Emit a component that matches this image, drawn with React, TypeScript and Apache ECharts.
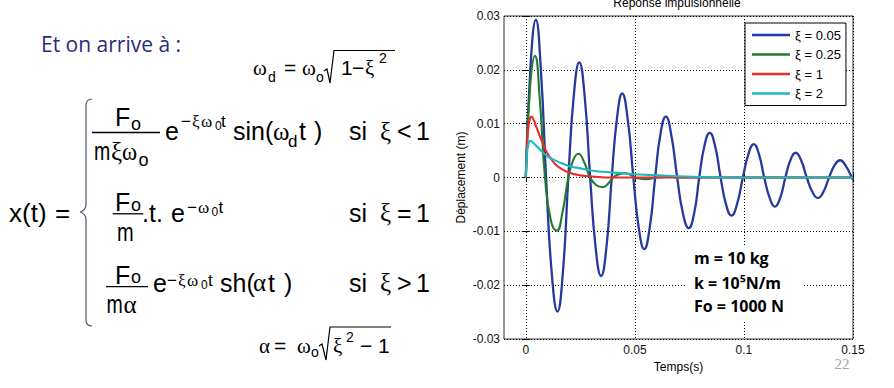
import React, { useEffect, useRef } from "react";
import * as echarts from "echarts";

// ---------- data ----------
const legendNames = ["ξ = 0.05", "ξ = 0.25", "ξ = 1", "ξ = 2"];
const seriesColors = ["#26399E", "#217A2F", "#EE2A2A", "#1DB8C0"];

const xi005: [number, number][] = [
  [0, 0], [0.0022, 0.021], [0.0046, 0.0293], [0.0069, 0.02], [0.0093, 0],
  [0.0119, -0.0178], [0.0145, -0.0249], [0.017, -0.0176], [0.0195, 0],
  [0.022, 0.0152], [0.0245, 0.0214], [0.027, 0.015], [0.0295, 0],
  [0.032, -0.013], [0.0345, -0.0183], [0.037, -0.0128], [0.0394, 0],
  [0.0418, 0.011], [0.0442, 0.0156], [0.0467, 0.0109], [0.0493, 0],
  [0.0518, -0.0094], [0.0543, -0.0133], [0.0568, -0.0093], [0.0593, 0],
  [0.0617, 0.008], [0.0642, 0.0113], [0.0667, 0.0079], [0.0694, 0],
  [0.072, -0.0066], [0.0747, -0.0094], [0.0772, -0.0066], [0.0795, 0],
  [0.0819, 0.0059], [0.0843, 0.0083], [0.0868, 0.0058], [0.0893, 0],
  [0.0918, -0.005], [0.0943, -0.0071], [0.0968, -0.005], [0.0995, 0],
  [0.1021, 0.0044], [0.1045, 0.0062], [0.1069, 0.0043], [0.1093, 0],
  [0.1118, -0.0038], [0.1142, -0.0054], [0.1166, -0.0038], [0.119, 0],
  [0.1213, 0.0032], [0.1237, 0.0046], [0.1262, 0.0032], [0.1288, 0],
  [0.1314, -0.0027], [0.1339, -0.0038], [0.1364, -0.0027], [0.139, 0],
  [0.1416, 0.0023], [0.1441, 0.0032], [0.1466, 0.0022], [0.1495, 0],
  [0.15, -0.0005],
];

const xi025: [number, number][] = [
  [0, 0], [0.002, 0.017], [0.0042, 0.0226], [0.0065, 0.014], [0.0088, 0],
  [0.0115, -0.008], [0.0142, -0.0099], [0.0168, -0.0065], [0.0195, 0],
  [0.0218, 0.0033], [0.0241, 0.0044], [0.0268, 0.0028], [0.0295, 0],
  [0.0322, -0.0014], [0.0353, -0.0018], [0.0378, -0.0011], [0.04, 0],
  [0.0428, 0.0006], [0.0457, 0.0008], [0.048, 0.0005], [0.05, 0],
  [0.055, -0.0003], [0.06, 0], [0.065, 0.0001], [0.07, 0], [0.15, 0],
];

const xi1: [number, number][] = [
  [0, 0], [0.0005, 0.0055], [0.001, 0.0085], [0.0018, 0.0108], [0.0026, 0.0113],
  [0.0035, 0.0108], [0.005, 0.0092], [0.007, 0.0071], [0.01, 0.0044],
  [0.013, 0.0027], [0.016, 0.0017], [0.02, 0.0009], [0.025, 0.0004],
  [0.03, 0.0002], [0.04, 0], [0.15, 0],
];

const xi2: [number, number][] = [
  [0, 0], [0.0005, 0.004], [0.001, 0.0058], [0.0019, 0.0068], [0.003, 0.0066],
  [0.005, 0.0058], [0.0075, 0.0048], [0.01, 0.0039], [0.015, 0.0029],
  [0.02, 0.0021], [0.025, 0.0017], [0.03, 0.0013], [0.04, 0.0009],
  [0.05, 0.0006], [0.06, 0.0004], [0.08, 0.0001], [0.1, 0], [0.15, 0],
];

const xRange = [-0.01, 0.15];
const xTickValues = [0, 0.05, 0.1, 0.15];
const yRange = [-0.03, 0.03];
const yStep = 0.01;

// ---------- fonts ----------
const SANS = '"Liberation Sans", Arial, sans-serif';
const SERIF = '"Liberation Serif", "Times New Roman", serif';
const OPEN = '"Open Sans", sans-serif';

const BRACE_D =
  "M92,99 C88,99 86,101 86,106 L86,204 C86,208 84,211 80,212 C84,213 86,216 86,220 L86,320 C86,324 88,326 92,326";
echarts.graphic.registerShape("brace", echarts.graphic.extendPath(BRACE_D, {}) as any);

function txt(text: string, x: number, base: number, size: number, family = SANS, extra: any = {}) {
  return {
    type: "text",
    x,
    y: base - 0.35 * size,
    scaleX: extra.scaleX || 1,
    silent: true,
    z: 100,
    style: {
      text,
      font: `${extra.weight || "normal"} ${size}px ${family}`,
      fill: extra.fill || "#000",
      align: extra.align || "left",
      textAlign: extra.align || "left",
      verticalAlign: "middle",
      textVerticalAlign: "middle",
    },
  };
}

function hline(x1: number, x2: number, y: number, w = 1.3) {
  return {
    type: "line",
    silent: true,
    z: 100,
    shape: { x1, y1: y, x2, y2: y },
    style: { stroke: "#000", lineWidth: w },
  };
}

function poly(points: number[][], w = 1.2) {
  return {
    type: "polyline",
    silent: true,
    z: 100,
    shape: { points },
    style: { stroke: "#000", lineWidth: w, fill: "none" },
  };
}

const M = 25; // main formula size
const SUP = 17;

const formulaElements: any[] = [
  txt("Et on arrive à :", 41, 51, 21, OPEN, { fill: "#2B2A7E" }),
  // omega_d = omega_o sqrt(1 - xi^2)
  txt("ω", 253, 75, 21, SERIF),
  txt("d", 268, 82, 14),
  txt("=", 284, 75, 21),
  txt("ω", 302, 75, 21, SERIF),
  txt("o", 316, 82, 14),
  poly([[324, 71], [327, 69], [330, 83], [334, 50.5], [395, 50.5]]),
  txt("1", 341, 75, 21),
  txt("−", 352, 75, 21),
  txt("ξ", 365, 75, 21, SERIF),
  txt("2", 379, 63, 14),
  // x(t) =
  txt("x(t)", 9, 221.7, 26),
  txt("=", 55, 221.7, 26),
  { type: "brace", x: 0, y: 0, silent: true, z: 100, style: { stroke: "#4E5A74", lineWidth: 1.2, fill: "none" } },
  // row 1
  txt("F", 115, 126, M),
  txt("o", 131, 130, 18),
  hline(92, 160, 132.5),
  txt("m", 94, 160, M, SANS, { scaleX: 0.78 }),
  txt("ξ", 111, 160, M, SERIF),
  txt("ω", 122, 160, M, SERIF, { scaleX: 0.92 }),
  txt("o", 138.5, 166, 18),
  txt("e", 165, 140, M),
  txt("−", 181, 127, SUP),
  txt("ξ", 192, 127, SUP, SERIF),
  txt("ω", 201, 127, SUP, SERIF),
  txt("0", 215, 130, 12),
  txt("t", 221, 127, SUP),
  txt("sin(", 233, 140, M),
  txt("ω", 273, 140, M, SERIF),
  txt("d", 288, 147, 17),
  txt("t", 299, 140, M),
  txt(")", 314, 140, M),
  txt("si", 349, 140, M),
  txt("ξ", 380, 140, M, SERIF),
  txt("<", 397, 140, M),
  txt("1", 416, 140, M),
  // row 2
  txt("F", 115, 211, M),
  txt("o", 131, 211.5, 18),
  hline(112.7, 143.3, 213.8),
  txt("m", 117, 241.7, M, SANS, { scaleX: 0.8 }),
  txt(".t.", 142, 221.7, M),
  txt("e", 171, 221.7, M),
  txt("−", 187, 213, SUP),
  txt("ω", 198, 213, SUP, SERIF),
  txt("0", 211.5, 216, 12),
  txt("t", 218.5, 213, SUP),
  txt("si", 349, 221.7, M),
  txt("ξ", 380, 221.7, M, SERIF),
  txt("=", 397, 221.7, M),
  txt("1", 416, 221.7, M),
  // row 3
  txt("F", 115, 283.3, M),
  txt("o", 131, 283.5, 18),
  hline(106, 148, 286.7),
  txt("m", 106.5, 313.3, M, SANS, { scaleX: 0.78 }),
  txt("α", 123.5, 313.3, M, SERIF),
  txt("e", 153, 291.7, M),
  txt("−", 167, 286, SUP),
  txt("ξ", 178, 286, SUP, SERIF),
  txt("ω", 187, 286, SUP, SERIF),
  txt("0", 201, 289, 12),
  txt("t", 208, 286, SUP),
  txt("sh(", 220, 291.7, M),
  txt("α", 253, 291.7, M, SERIF),
  txt("t", 268, 291.7, M),
  txt(")", 284, 291.7, M),
  txt("si", 349, 291.7, M),
  txt("ξ", 380, 291.7, M, SERIF),
  txt(">", 397, 291.7, M),
  txt("1", 416, 291.7, M),
  // alpha = omega_o sqrt(xi^2 - 1)
  txt("α", 259, 353.3, 21, SERIF),
  txt("=", 274, 353.3, 21),
  txt("ω", 297, 353.3, 21, SERIF),
  txt("o", 311, 357, 14),
  poly([[319, 346], [322, 344], [326, 360], [330, 327], [391, 327]]),
  txt("ξ", 333, 353.3, 21, SERIF),
  txt("2", 346, 342, 14),
  txt("−", 360, 353.3, 21),
  txt("1", 378, 353.3, 21),
];

const chartDecor: any[] = [
  txt("Réponse impulsionnelle", 677, 7, 12, SANS, { align: "center" }),
  txt("22", 842, 369.5, 15, SERIF, { align: "center", fill: "#A6A6A6" }),
  {
    type: "rect",
    silent: true,
    z: 90,
    shape: { x: 686, y: 247, width: 116, height: 73 },
    style: { fill: "#fff" },
  },
  txt("m = 10 kg", 694, 264, 16, OPEN, { weight: "bold" }),
  txt("k = 10⁵N/m", 694, 289, 16, OPEN, { weight: "bold" }),
  txt("Fo = 1000 N", 694, 311.5, 16, OPEN, { weight: "bold" }),
];

export default function App() {
  const ref = useRef<HTMLDivElement>(null);
  useEffect(() => {
    if (!ref.current) return;
    const chart = echarts.init(ref.current, undefined, { renderer: "svg" });
    const dataSets = [xi005, xi025, xi1, xi2];
    const dotted = { color: "#000", width: 1, type: [1, 2] as any };
    const axisLabel = { color: "#111", fontFamily: SANS, fontSize: 12 };
    const tick = { show: true, inside: true, length: 4, lineStyle: { color: "#000" } };
    chart.setOption({
      animation: false,
      backgroundColor: "#fff",
      grid: {
        left: 504,
        right: 41,
        top: 16,
        bottom: 49,
        show: true,
        borderColor: "#333",
        borderWidth: 1,
        backgroundColor: "transparent",
      },
      legend: {
        data: legendNames,
        orient: "vertical",
        left: 745,
        top: 23,
        backgroundColor: "#fff",
        borderColor: "#000",
        borderWidth: 1,
        borderRadius: 0,
        padding: [5, 5, 5, 7],
        itemGap: 5.5,
        itemWidth: 38,
        itemHeight: 2.5,
        icon: "rect",
        textStyle: { fontFamily: SANS, fontSize: 13, color: "#000", lineHeight: 14 },
      },
      xAxis: [
        {
          type: "value",
          min: xRange[0],
          max: xRange[1],
          axisLine: { show: false },
          axisTick: { ...tick, customValues: xTickValues },
          axisLabel: { ...axisLabel, margin: 5, customValues: xTickValues },
          splitLine: { show: true, lineStyle: dotted, customValues: xTickValues },
          name: "Temps(s)",
          nameLocation: "middle",
          nameGap: 20,
          nameTextStyle: { fontFamily: SANS, fontSize: 12, color: "#000" },
        },
        {
          type: "value",
          position: "top",
          min: xRange[0],
          max: xRange[1],
          axisLine: { show: false },
          axisTick: { ...tick, customValues: xTickValues },
          axisLabel: { show: false, customValues: xTickValues },
          splitLine: { show: false },
        },
      ],
      yAxis: [
        {
          type: "value",
          min: yRange[0],
          max: yRange[1],
          interval: yStep,
          axisLine: { show: false },
          axisTick: tick,
          axisLabel: { ...axisLabel, margin: 4 },
          splitLine: { show: true, lineStyle: dotted },
          name: "Déplacement (m)",
          nameLocation: "middle",
          nameGap: 37,
          nameTextStyle: { fontFamily: SANS, fontSize: 12, color: "#000" },
        },
        {
          type: "value",
          position: "right",
          min: yRange[0],
          max: yRange[1],
          interval: yStep,
          axisLine: { show: false },
          axisTick: tick,
          axisLabel: { show: false },
          splitLine: { show: false },
        },
      ],
      series: dataSets.map((d, i) => ({
        type: "line",
        name: legendNames[i],
        data: d,
        xAxisIndex: 0,
        yAxisIndex: 0,
        symbol: "none",
        showSymbol: false,
        smooth: 0.5,
        lineStyle: { color: seriesColors[i], width: i === 0 ? 2.3 : 2.1 },
        itemStyle: { color: seriesColors[i] },
        z: 2 + i,
      })),
      graphic: { elements: [...formulaElements, ...chartDecor] },
    });
    return () => chart.dispose();
  }, []);
  return (
    <div
      ref={ref}
      style={{ position: "absolute", left: 0, top: 0, width: 894, height: 388, background: "#fff" }}
    />
  );
}
